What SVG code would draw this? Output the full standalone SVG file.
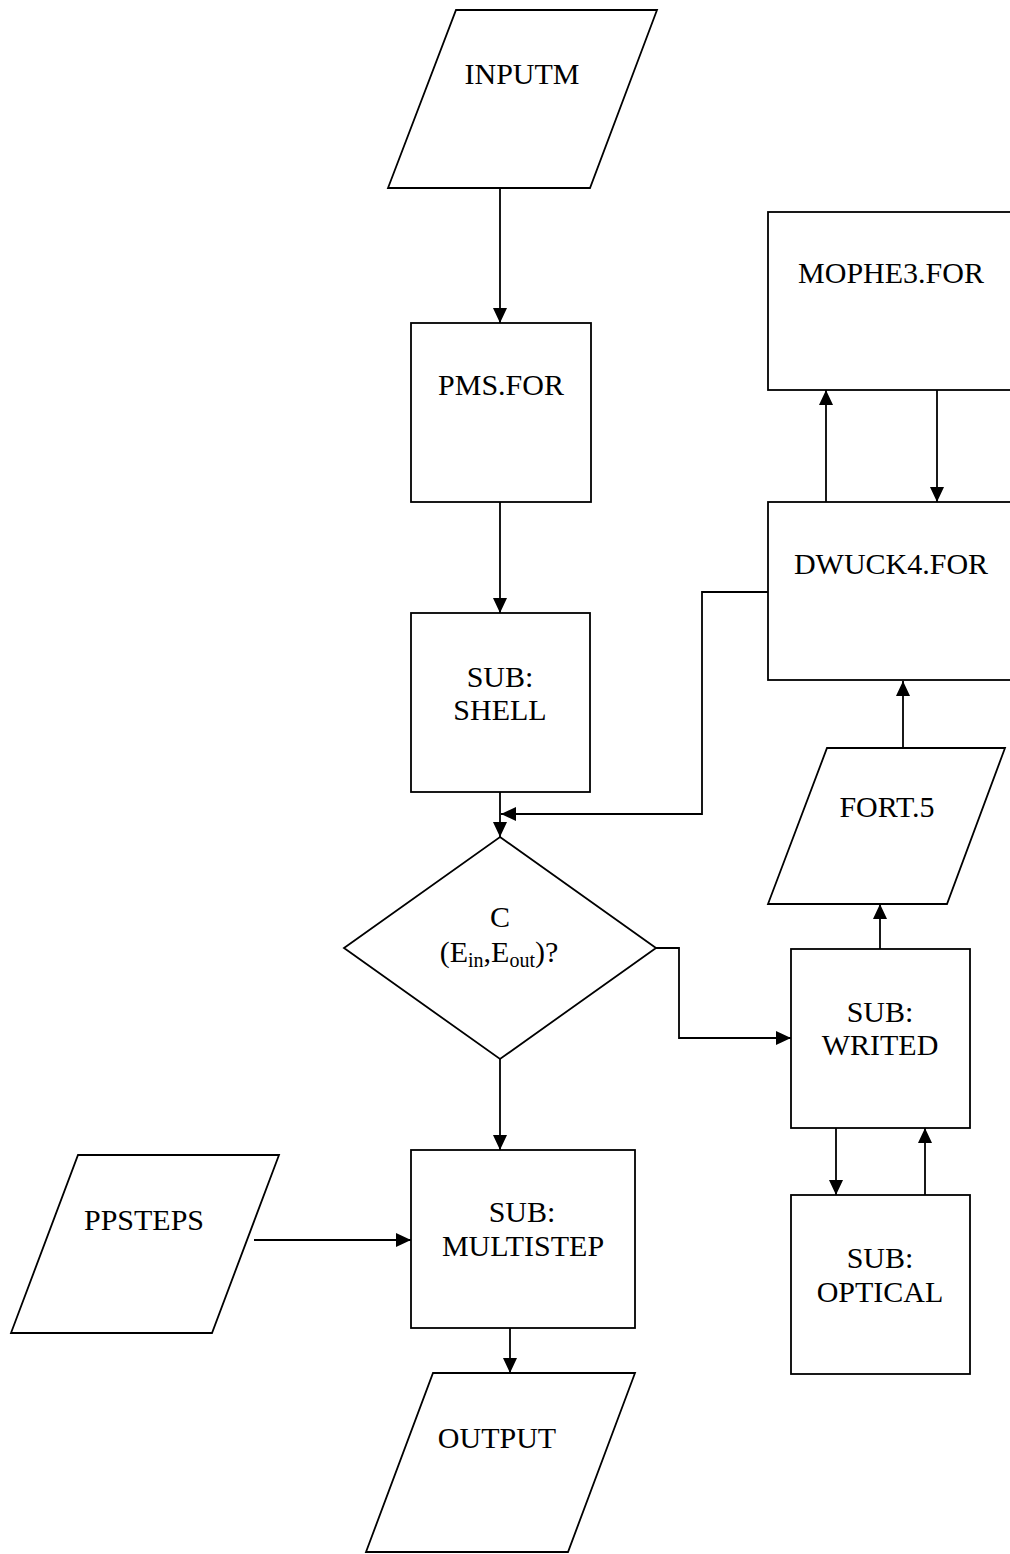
<svg xmlns="http://www.w3.org/2000/svg" width="1010" height="1554" viewBox="0 0 1010 1554">
<style>
.s{fill:#fff;stroke:#000;stroke-width:1.8}
.c{fill:none;stroke:#000;stroke-width:1.8}
text{font-family:"Liberation Serif","Times New Roman",serif;font-size:30px;fill:#000;text-anchor:middle}
.sub{font-size:20px}
</style>
<defs>
<marker id="a" markerUnits="userSpaceOnUse" markerWidth="15" markerHeight="14" refX="15" refY="7" orient="auto">
<path d="M0,0 L15,7 L0,14 Z" fill="#000"/>
</marker>
</defs>
<rect width="1010" height="1554" fill="#fff"/>
<g id="connectors">
<path class="c" d="M500,188 V323" marker-end="url(#a)"/>
<path class="c" d="M500,502 V613" marker-end="url(#a)"/>
<path class="c" d="M500,792 V837" marker-end="url(#a)"/>
<path class="c" d="M768,592 H702 V814 H501" marker-end="url(#a)"/>
<path class="c" d="M826,502 V390" marker-end="url(#a)"/>
<path class="c" d="M937,390 V502" marker-end="url(#a)"/>
<path class="c" d="M903,748 V681" marker-end="url(#a)"/>
<path class="c" d="M880,949 V904" marker-end="url(#a)"/>
<path class="c" d="M656,948 H679 V1038 H791" marker-end="url(#a)"/>
<path class="c" d="M836,1128 V1195" marker-end="url(#a)"/>
<path class="c" d="M925,1195 V1128" marker-end="url(#a)"/>
<path class="c" d="M500,1059 V1150" marker-end="url(#a)"/>
<path class="c" d="M254,1240 H411" marker-end="url(#a)"/>
<path class="c" d="M510,1328 V1373" marker-end="url(#a)"/>
</g>
<g id="inputm">
<polygon class="s" points="456,10 657,10 590,188 388,188"/>
<text x="522" y="84">INPUTM</text>
</g>
<g id="pms">
<rect class="s" x="411" y="323" width="180" height="179"/>
<text x="501" y="395">PMS.FOR</text>
</g>
<g id="shell">
<rect class="s" x="411" y="613" width="179" height="179"/>
<text x="500" y="687">SUB:</text>
<text x="500" y="720">SHELL</text>
</g>
<g id="decision">
<polygon class="s" points="500,837 656,948 500,1059 344,948"/>
<text x="500" y="927">C</text>
<text x="499" y="962">(E<tspan class="sub" dy="5">in</tspan><tspan dy="-5">,E</tspan><tspan class="sub" dy="5">out</tspan><tspan dy="-5">)?</tspan></text>
</g>
<g id="mophe3">
<rect class="s" x="768" y="212" width="260" height="178"/>
<text x="891" y="283">MOPHE3.FOR</text>
</g>
<g id="dwuck4">
<rect class="s" x="768" y="502" width="260" height="178"/>
<text x="891" y="574">DWUCK4.FOR</text>
</g>
<g id="fort5">
<polygon class="s" points="827,748 1005,748 947,904 768,904"/>
<text x="887" y="817">FORT.5</text>
</g>
<g id="writed">
<rect class="s" x="791" y="949" width="179" height="179"/>
<text x="880" y="1022">SUB:</text>
<text x="880" y="1055">WRITED</text>
</g>
<g id="optical">
<rect class="s" x="791" y="1195" width="179" height="179"/>
<text x="880" y="1268">SUB:</text>
<text x="880" y="1302">OPTICAL</text>
</g>
<g id="multistep">
<rect class="s" x="411" y="1150" width="224" height="178"/>
<text x="522" y="1222">SUB:</text>
<text x="523" y="1256">MULTISTEP</text>
</g>
<g id="ppsteps">
<polygon class="s" points="78,1155 279,1155 212,1333 11,1333"/>
<text x="144" y="1230">PPSTEPS</text>
</g>
<g id="output">
<polygon class="s" points="433,1373 635,1373 568,1552 366,1552"/>
<text x="497" y="1448">OUTPUT</text>
</g>
</svg>
